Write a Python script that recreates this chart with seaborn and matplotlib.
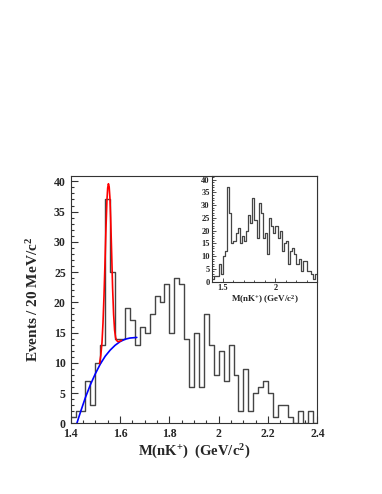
import numpy as np
import pandas as pd
import matplotlib
matplotlib.use("Agg")
import matplotlib.pyplot as plt
import seaborn as sns
import matplotlib.ticker as ticker

# --- data ---
# main histogram: 50 bins of 20 MeV from 1.40 to 2.40 GeV
x_lo, x_hi, bin_w = 1.40, 2.40, 0.02
main_counts = [1, 2, 2, 7, 3, 10, 13, 37, 25, 14,
               14, 19, 17, 13, 16, 15, 18, 21, 20, 23,
               15, 24, 23, 14, 6, 15, 6, 18, 13, 8,
               12, 7, 13, 8, 2, 9, 2, 5, 6, 7,
               5, 1, 3, 3, 1, 0, 2, 0, 2, 0]

# inset histogram, same binning
inset_counts = [1, 2, 2, 7, 3, 10, 12, 37, 27, 15,
                16, 19, 21, 15, 18, 16, 20, 26, 23, 33,
                24, 17, 31, 27, 17, 19, 11, 25, 22, 19,
                22, 17, 20, 12, 15, 16, 7, 12, 13, 11,
                7, 9, 4, 8, 8, 4, 4, 3, 1, 3]

# background curve (blue)
bg_x = [1.425, 1.44, 1.46, 1.48, 1.50, 1.52, 1.54, 1.56, 1.58, 1.60, 1.62, 1.64, 1.668]
bg_y = [0.0, 1.9, 4.3, 6.4, 8.2, 9.8, 11.1, 12.1, 12.9, 13.5, 13.9, 14.1, 14.2]

# signal + background curve (red)
fit_x = [1.517, 1.522, 1.527, 1.531, 1.535, 1.539, 1.543, 1.547, 1.550, 1.553,
         1.556, 1.559, 1.562, 1.566, 1.570, 1.574, 1.578, 1.582, 1.586, 1.592, 1.600, 1.606]
fit_y = [9.9, 11.2, 13.4, 16.6, 21.0, 26.4, 32.2, 36.9, 38.9, 39.6,
         39.1, 37.3, 34.0, 28.2, 22.3, 18.0, 15.4, 14.2, 13.7, 13.5, 13.6, 13.7]

n_bins = len(main_counts)
centers = x_lo + bin_w * (np.arange(n_bins) + 0.5)
df_main = pd.DataFrame({"m": centers, "n": main_counts})
df_inset = pd.DataFrame({"m": centers, "n": inset_counts})
df_bg = pd.DataFrame({"m": bg_x, "f": bg_y})
df_fit = pd.DataFrame({"m": fit_x, "f": fit_y})

# --- style ---
sns.set_style("ticks")
plt.rcParams["font.family"] = ["Liberation Serif", "DejaVu Serif"]
plt.rcParams["font.weight"] = "bold"
plt.rcParams["mathtext.default"] = "regular"

fig = plt.figure(figsize=(3.82, 4.94), dpi=100)
ax = fig.add_axes([0.185, 0.143, 0.646, 0.501])

hist_color = "#454545"
sns.histplot(data=df_main, x="m", weights="n", binwidth=bin_w, binrange=(x_lo, x_hi),
             element="step", fill=False, color=hist_color, linewidth=1.0, ax=ax)
sns.lineplot(data=df_bg, x="m", y="f", color="#0000ff", linewidth=1.2,
             sort=False, estimator=None, ax=ax)
sns.lineplot(data=df_fit, x="m", y="f", color="#ff0000", linewidth=1.2,
             sort=False, estimator=None, ax=ax)

ax.set_xlim(1.4, 2.4)
ax.set_ylim(0, 40.9)
ax.xaxis.set_major_locator(ticker.MultipleLocator(0.2))
ax.xaxis.set_minor_locator(ticker.MultipleLocator(0.05))
ax.yaxis.set_major_locator(ticker.MultipleLocator(5))
ax.yaxis.set_minor_locator(ticker.MultipleLocator(1))
ax.xaxis.set_major_formatter(ticker.FuncFormatter(lambda v, _: f"{v:g}"))
ax.tick_params(which="both", direction="in", top=False, right=False,
               labelsize=8.5, width=0.8, color="#333333")
ax.tick_params(which="major", length=5)
ax.tick_params(which="minor", length=2.5)
for s in ax.spines.values():
    s.set_linewidth(0.8)
    s.set_color("#333333")
ax.set_xlabel(r"M(nK$^{+}$)  (GeV/c$^{2}$)", fontsize=10.5, fontweight="bold", labelpad=2)
ax.set_ylabel(r"Events / 20 MeV/c$^{2}$", fontsize=11, fontweight="bold", labelpad=9)

# --- inset ---
ins = fig.add_axes([0.556, 0.430, 0.275, 0.214])
sns.histplot(data=df_inset, x="m", weights="n", binwidth=bin_w, binrange=(x_lo, x_hi),
             element="step", fill=False, color=hist_color, linewidth=0.9, ax=ins)
ins.set_xlim(1.4, 2.4)
ins.set_ylim(0, 41.5)
ins.xaxis.set_major_locator(ticker.FixedLocator([1.5, 2.0]))
ins.xaxis.set_minor_locator(ticker.MultipleLocator(0.1))
ins.yaxis.set_major_locator(ticker.MultipleLocator(5))
ins.yaxis.set_minor_locator(ticker.MultipleLocator(1))
ins.xaxis.set_major_formatter(ticker.FuncFormatter(lambda v, _: f"{v:g}"))
ins.tick_params(which="both", direction="in", top=False, right=False,
                labelsize=6, width=0.6, color="#333333", pad=2)
ins.tick_params(which="major", length=3)
ins.tick_params(which="minor", length=1.5)
for s in ins.spines.values():
    s.set_linewidth(0.8)
    s.set_color("#333333")
ins.set_xlabel(r"M(nK$^{+}$) (GeV/c$^{2}$)", fontsize=6.5, fontweight="bold", labelpad=1)
ins.set_ylabel("")

fig.savefig("out.png", dpi=100)
